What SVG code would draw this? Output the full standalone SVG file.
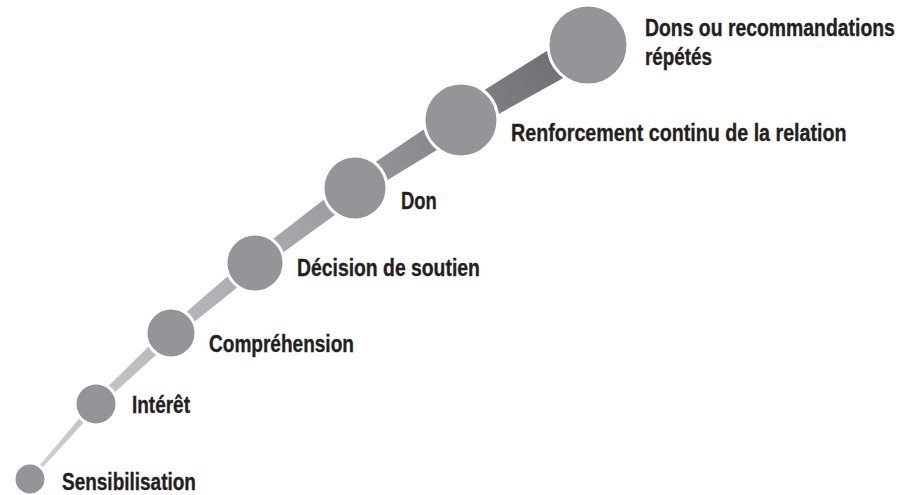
<svg xmlns="http://www.w3.org/2000/svg" width="906" height="495" viewBox="0 0 906 495">
<defs>
<linearGradient id="band" gradientUnits="userSpaceOnUse" x1="30" y1="479" x2="588" y2="45">
<stop offset="0" stop-color="#cfd0d2"/>
<stop offset="0.5" stop-color="#a4a6a9"/>
<stop offset="1" stop-color="#6a6b6e"/>
</linearGradient>
<style>
.node circle{fill:#939598;stroke:#ffffff;stroke-width:3}
.lbl{font-family:"Liberation Sans",Arial,sans-serif;font-weight:bold;font-size:23px;fill:#231f20;stroke:#231f20;stroke-width:0.35}
.seg{fill:url(#band)}
</style>
</defs>
<rect width="906" height="495" fill="#ffffff"/>
<g id="connectors">
<polygon class="seg" points="28.9,478 93.4,401.7 98.6,406.3 31.1,480"/>
<polygon class="seg" points="93.3,401.1 166.9,328.6 175.1,337.4 98.7,406.9"/>
<polygon class="seg" points="167.2,328.4 249.9,256.9 260.1,269.1 174.8,337.6"/>
<polygon class="seg" points="250.2,256.6 349,180 361,196 259.8,269.4"/>
<polygon class="seg" points="349.6,179.6 454,109.1 468,130.9 360.4,196.4"/>
<polygon class="seg" points="454.4,108.8 579.4,30.4 596.6,59.6 467.6,131.2"/>
</g>
<g id="n1" class="node"><circle cx="30" cy="479" r="16"/><text class="lbl" transform="translate(62,490) scale(0.826,1)">Sensibilisation</text></g>
<g id="n2" class="node"><circle cx="96" cy="404" r="21"/><text class="lbl" transform="translate(132,413) scale(0.825,1)">Intérêt</text></g>
<g id="n3" class="node"><circle cx="171" cy="333" r="25"/><text class="lbl" transform="translate(209,352) scale(0.828,1)">Compréhension</text></g>
<g id="n4" class="node"><circle cx="255" cy="263" r="29"/><text class="lbl" transform="translate(297,276) scale(0.842,1)">Décision de soutien</text></g>
<g id="n5" class="node"><circle cx="355" cy="188" r="32"/><text class="lbl" transform="translate(401,209) scale(0.8,1)">Don</text></g>
<g id="n6" class="node"><circle cx="461" cy="120" r="37"/><text class="lbl" transform="translate(511,141) scale(0.856,1)">Renforcement continu de la relation</text></g>
<g id="n7" class="node"><circle cx="588" cy="45" r="40"/><text class="lbl" transform="translate(645,36) scale(0.843,1)">Dons ou recommandations</text><text class="lbl" transform="translate(645,65) scale(0.82,1)">répétés</text></g>
</svg>
